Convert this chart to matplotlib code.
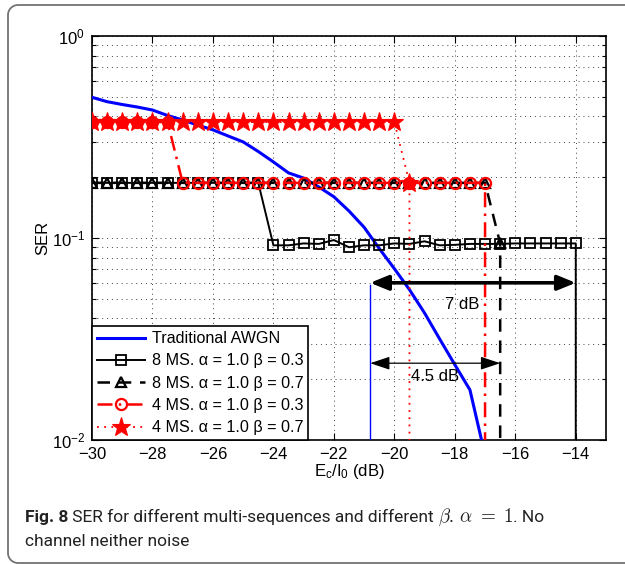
import numpy as np
import matplotlib
matplotlib.use("Agg")
import matplotlib.pyplot as plt
from matplotlib.lines import Line2D
from matplotlib.ticker import LogLocator, NullFormatter, FixedLocator

plt.rcParams['font.family'] = ['Liberation Sans', 'DejaVu Sans']
plt.rcParams['mathtext.default'] = 'regular'

# ---------------- data ----------------
x_awgn = [-30, -29.5, -29, -28.5, -28, -27.5, -27, -26.5, -26, -25.5, -25, -24.5,
          -24, -23.5, -23, -22.5, -22, -21.5, -21, -20.5, -20, -19.5, -19, -18.5,
          -18, -17.5, -17]
ser_awgn = [0.497, 0.473, 0.458, 0.445, 0.430, 0.404, 0.384, 0.362, 0.343, 0.320,
            0.299, 0.268, 0.238, 0.210, 0.198, 0.179, 0.160, 0.136, 0.113, 0.0887,
            0.0705, 0.0555, 0.0425, 0.0316, 0.0236, 0.0177, 0.0084]

x_8ms_03 = [-30, -29.5, -29, -28.5, -28, -27.5, -27, -26.5, -26, -25.5, -25, -24.5,
            -24, -23.5, -23, -22.5, -22, -21.5, -21, -20.5, -20, -19.5, -19, -18.5,
            -18, -17.5, -17, -16.5, -16, -15.5, -15, -14.5, -14, -14]
ser_8ms_03 = [0.1875] * 12 + [0.092, 0.092, 0.094, 0.0935, 0.0977, 0.090, 0.092,
                              0.092, 0.094, 0.0935, 0.0963, 0.092, 0.0925, 0.0935,
                              0.0935, 0.0935, 0.094, 0.094, 0.094, 0.094, 0.094, 1e-6]

x_8ms_07 = [-30, -29.5, -29, -28.5, -28, -27.5, -27, -26.5, -26, -25.5, -25, -24.5,
            -24, -23.5, -23, -22.5, -22, -21.5, -21, -20.5, -20, -19.5, -19, -18.5,
            -18, -17.5, -17, -16.5, -16.5]
ser_8ms_07 = [0.1875] * 27 + [0.094, 1e-6]

x_4ms_03 = [-30, -29.5, -29, -28.5, -28, -27.5, -27, -26.5, -26, -25.5, -25, -24.5,
            -24, -23.5, -23, -22.5, -22, -21.5, -21, -20.5, -20, -19.5, -19, -18.5,
            -18, -17.5, -17, -17]
ser_4ms_03 = [0.375] * 6 + [0.1875] * 21 + [1e-6]

x_4ms_07 = [-30, -29.5, -29, -28.5, -28, -27.5, -27, -26.5, -26, -25.5, -25, -24.5,
            -24, -23.5, -23, -22.5, -22, -21.5, -21, -20.5, -20, -19.5, -19.5]
ser_4ms_07 = [0.375] * 21 + [0.1875, 1e-6]

labels = ['Traditional AWGN',
          '8 MS. α = 1.0 β = 0.3',
          '8 MS. α = 1.0 β = 0.7',
          '4 MS. α = 1.0 β = 0.3',
          '4 MS. α = 1.0 β = 0.7']

x_ticks = [-30, -28, -26, -24, -22, -20, -18, -16, -14]

# annotation values
gap_left = -20.8
gap7_right, gap7_level = -14, 0.060
gap45_right, gap45_level = -16.5, 0.024

# ---------------- figure ----------------
W, H = 625, 564
fig = plt.figure(figsize=(W / 100, H / 100), dpi=100)
ax = fig.add_axes([92 / W, 1 - 440 / H, (606 - 92) / W, (440 - 36) / H])

ax.plot(x_awgn, ser_awgn, color='#0000ff', lw=2.2, label=labels[0], zorder=3)
ax.plot(x_8ms_03, ser_8ms_03, color='k', lw=1.4, ls='-', marker='s', ms=6.5,
        mfc='none', mec='k', mew=1.3, label=labels[1], zorder=4)
ax.plot(x_8ms_07, ser_8ms_07, color='k', lw=1.8, ls=(0, (5, 3.5)), marker='^', ms=7,
        mfc='none', mec='k', mew=1.6, label=labels[2], zorder=5)
ax.plot(x_4ms_03, ser_4ms_03, color='#ff0000', lw=1.8, ls=(0, (6, 2.5, 1, 2.5)),
        marker='o', ms=8, mfc='none', mec='#ff0000', mew=1.6, label=labels[3], zorder=6)
ax.plot(x_4ms_07, ser_4ms_07, color='#ff0000', lw=1.3, ls=(0, (1, 3)), marker='*',
        ms=14, mfc='#ff0000', mec='#ff0000', mew=0.8, label=labels[4], zorder=7)

ax.set_yscale('log')
ax.set_xlim(-30, -13)
ax.set_ylim(1e-2, 1)
ax.xaxis.set_major_locator(FixedLocator(x_ticks))
ax.set_xticklabels(['\u2212%d' % abs(v) for v in x_ticks])
ax.yaxis.set_major_locator(LogLocator(base=10, numticks=10))
ax.yaxis.set_minor_locator(LogLocator(base=10, subs=np.arange(2, 10), numticks=20))
ax.yaxis.set_minor_formatter(NullFormatter())

ax.tick_params(which='both', direction='in', top=True, right=True, labelsize=12,
               width=0.8)
ax.tick_params(which='major', length=5, pad=5)
ax.tick_params(which='minor', length=3)
ax.grid(True, which='major', axis='x', color='0.25', ls=(0, (1, 4)), lw=0.7)
ax.grid(True, which='both', axis='y', color='0.25', ls=(0, (1, 4)), lw=0.7)
for sp in ax.spines.values():
    sp.set_linewidth(1.2)

ax.set_ylabel('SER', fontsize=12, labelpad=1)
ax.set_xlabel(r'$\mathregular{E_c/I_0}$ (dB)', fontsize=12, labelpad=0)

# vertical reference line and dB-gap arrows
ax.plot([gap_left, gap_left], [gap7_level * 0.975, 1e-2], color='#0000ff', lw=1.0,
        zorder=3)
ax.annotate('', xy=(gap7_right, gap7_level), xytext=(gap_left, gap7_level),
            arrowprops=dict(arrowstyle='<|-|>,head_length=1.1,head_width=0.45',
                            color='k', lw=2.6, shrinkA=0, shrinkB=0), zorder=8)
ax.annotate('', xy=(gap45_right, gap45_level), xytext=(gap_left, gap45_level),
            arrowprops=dict(arrowstyle='<|-|>,head_length=1.2,head_width=0.4',
                            color='k', lw=0.9, shrinkA=0, shrinkB=0), zorder=8)
ax.text(-17.74, 0.0471, '7 dB', fontsize=12, ha='center', va='center', zorder=9)
ax.text(-18.66, 0.0207, '4.5 dB', fontsize=12, ha='center', va='center', zorder=9)

leg = ax.legend(loc='lower left', bbox_to_anchor=(0, 0), borderaxespad=0,
                fontsize=11.6, numpoints=1, handlelength=3.0, handletextpad=0.4,
                labelspacing=0.45, borderpad=0.3, fancybox=False, framealpha=1,
                edgecolor='k')
leg.get_frame().set_linewidth(1.2)
leg.set_zorder(10)

# caption, built from pieces placed side by side
cap_family = ['Roboto', 'DejaVu Sans']
cap_size = 12.5
pieces = [('Fig. 8', dict(weight='bold'), 1.0),
          (' SER for different multi-sequences and different ', {}, 1.0),
          (r'$\mathit{\beta}.\,\mathit{\alpha}\;\mathrm{=}\;\mathrm{1}$',
           dict(math_fontfamily='cm'), 1.1),
          ('. No', {}, 1.0)]
renderer = fig.canvas.get_renderer()
x0_px, y1_px, y2_px = 25, 517, 541
x = x0_px
for s, kw, scale in pieces:
    txt = fig.text(x / W, 1 - (y1_px + 5) / H, s, fontsize=cap_size * scale,
                   family=cap_family, va='baseline', ha='left', color='#222222',
                   **kw)
    x += txt.get_window_extent(renderer).width
fig.text(x0_px / W, 1 - (y2_px + 5) / H, 'channel neither noise', fontsize=cap_size,
         family=cap_family, va='baseline', ha='left', color='#222222')

# rounded border (display pixel coordinates, origin bottom-left)
r = 10
left, top, bot = 8, H - 5, 1.0
t = np.linspace(0, np.pi / 2, 12)
xs = [W + 5] + list(left + r - r * np.sin(t)) + \
     list(left + r - r * np.cos(t)) + [W + 5]
ys = [top] + list(top - r + r * np.cos(t)) + list(bot + r - r * np.sin(t)) + [bot]
border = Line2D(xs, ys, color='0.45', lw=1.3, transform=None)
fig.add_artist(border)

fig.savefig('out.png', dpi=100)
